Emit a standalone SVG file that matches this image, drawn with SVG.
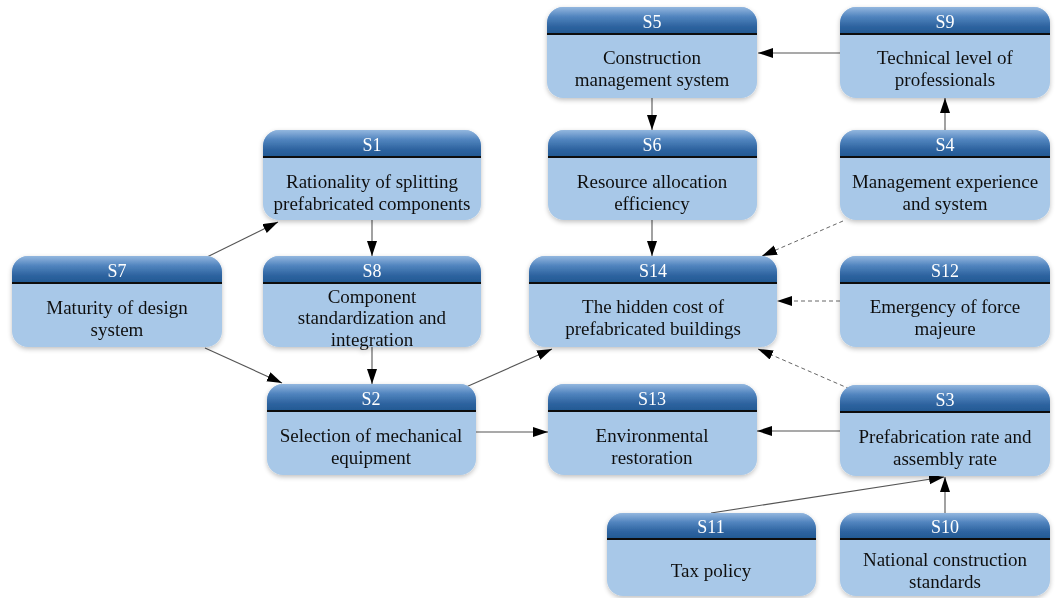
<svg xmlns="http://www.w3.org/2000/svg" width="1056" height="598" viewBox="0 0 1056 598">
  <defs>
    <linearGradient id="headGrad" x1="0" y1="0" x2="0" y2="1">
      <stop offset="0" stop-color="#93b7df"/>
      <stop offset="0.35" stop-color="#5285bf"/>
      <stop offset="0.7" stop-color="#2f65a1"/>
      <stop offset="1" stop-color="#215892"/>
    </linearGradient>
    <filter id="soft" x="-10%" y="-10%" width="120%" height="125%">
      <feGaussianBlur in="SourceAlpha" stdDeviation="2.5"/>
      <feOffset dx="0" dy="1.5" result="b"/>
      <feComponentTransfer><feFuncA type="linear" slope="0.25"/></feComponentTransfer>
      <feMerge><feMergeNode/><feMergeNode in="SourceGraphic"/></feMerge>
    </filter>
    <marker id="arr" markerUnits="userSpaceOnUse" markerWidth="16" markerHeight="11" refX="15" refY="5" orient="auto">
      <path d="M0,0 L15,5 L0,10 Z" fill="#000"/>
    </marker>
  </defs>
  <style>
    .body { fill: #a8c8e8; }
    .head { fill: url(#headGrad); }
    .sep { stroke: #111; stroke-width: 2; }
    .title { font-family: "Liberation Serif", "Times New Roman", serif; font-size: 18px; fill: #ffffff; text-anchor: middle; }
    .label { font-family: "Liberation Serif", "Times New Roman", serif; font-size: 19px; fill: #111111; text-anchor: middle; }
    .edge { stroke: #555; stroke-width: 1.1; fill: none; marker-end: url(#arr); }
    .dash { stroke-dasharray: 4 3; stroke-width: 0.9; }
  </style>

  <rect width="1056" height="598" fill="#ffffff"/>

  <!-- connectors -->
  <g id="connectors">
    <line class="edge" x1="840" y1="53" x2="758" y2="53"/>
    <line class="edge" x1="652" y1="98" x2="652" y2="130"/>
    <line class="edge" x1="945" y1="130" x2="945" y2="98"/>
    <line class="edge" x1="652" y1="220" x2="652" y2="256"/>
    <line class="edge dash" x1="843" y1="221" x2="762" y2="256"/>
    <line class="edge dash" x1="840" y1="301" x2="777" y2="301"/>
    <line class="edge dash" x1="850" y1="389" x2="758" y2="349"/>
    <line class="edge" x1="372" y1="220" x2="372" y2="256"/>
    <line class="edge" x1="207" y1="257" x2="278" y2="222"/>
    <line class="edge" x1="205" y1="348" x2="282" y2="383"/>
    <line class="edge" x1="372" y1="347" x2="372" y2="384"/>
    <line class="edge" x1="466" y1="387" x2="552" y2="349"/>
    <line class="edge" x1="476" y1="432" x2="548" y2="432"/>
    <line class="edge" x1="840" y1="431" x2="757" y2="431"/>
    <line class="edge" x1="711" y1="513" x2="944" y2="477"/>
    <line class="edge" x1="945" y1="513" x2="945" y2="477"/>
  </g>

  <!-- S5 -->
  <g id="S5" filter="url(#soft)">
    <rect class="body" x="547" y="7" width="210" height="91" rx="16"/>
    <path class="head" d="M547,34 V23 A16,16 0 0 1 563,7 H741 A16,16 0 0 1 757,23 V34 Z"/>
    <line class="sep" x1="547" y1="34" x2="757" y2="34"/>
    <text class="title" x="652" y="28">S5</text>
    <text class="label" x="652" y="64">Construction</text>
    <text class="label" x="652" y="86">management system</text>
  </g>

  <!-- S9 -->
  <g id="S9" filter="url(#soft)">
    <rect class="body" x="840" y="7" width="210" height="91" rx="16"/>
    <path class="head" d="M840,34 V23 A16,16 0 0 1 856,7 H1034 A16,16 0 0 1 1050,23 V34 Z"/>
    <line class="sep" x1="840" y1="34" x2="1050" y2="34"/>
    <text class="title" x="945" y="28">S9</text>
    <text class="label" x="945" y="64">Technical level of</text>
    <text class="label" x="945" y="86">professionals</text>
  </g>

  <!-- S1 -->
  <g id="S1" filter="url(#soft)">
    <rect class="body" x="263" y="130" width="218" height="90" rx="16"/>
    <path class="head" d="M263,157 V146 A16,16 0 0 1 279,130 H465 A16,16 0 0 1 481,146 V157 Z"/>
    <line class="sep" x1="263" y1="157" x2="481" y2="157"/>
    <text class="title" x="372" y="151">S1</text>
    <text class="label" x="372" y="188">Rationality of splitting</text>
    <text class="label" x="372" y="210">prefabricated components</text>
  </g>

  <!-- S6 -->
  <g id="S6" filter="url(#soft)">
    <rect class="body" x="548" y="130" width="209" height="90" rx="16"/>
    <path class="head" d="M548,157 V146 A16,16 0 0 1 564,130 H741 A16,16 0 0 1 757,146 V157 Z"/>
    <line class="sep" x1="548" y1="157" x2="757" y2="157"/>
    <text class="title" x="652" y="151">S6</text>
    <text class="label" x="652" y="188">Resource allocation</text>
    <text class="label" x="652" y="210">efficiency</text>
  </g>

  <!-- S4 -->
  <g id="S4" filter="url(#soft)">
    <rect class="body" x="840" y="130" width="210" height="90" rx="16"/>
    <path class="head" d="M840,157 V146 A16,16 0 0 1 856,130 H1034 A16,16 0 0 1 1050,146 V157 Z"/>
    <line class="sep" x1="840" y1="157" x2="1050" y2="157"/>
    <text class="title" x="945" y="151">S4</text>
    <text class="label" x="945" y="188">Management experience</text>
    <text class="label" x="945" y="210">and system</text>
  </g>

  <!-- S7 -->
  <g id="S7" filter="url(#soft)">
    <rect class="body" x="12" y="256" width="210" height="91" rx="16"/>
    <path class="head" d="M12,283 V272 A16,16 0 0 1 28,256 H206 A16,16 0 0 1 222,272 V283 Z"/>
    <line class="sep" x1="12" y1="283" x2="222" y2="283"/>
    <text class="title" x="117" y="277">S7</text>
    <text class="label" x="117" y="314">Maturity of design</text>
    <text class="label" x="117" y="336">system</text>
  </g>

  <!-- S8 -->
  <g id="S8" filter="url(#soft)">
    <rect class="body" x="263" y="256" width="218" height="91" rx="16"/>
    <path class="head" d="M263,283 V272 A16,16 0 0 1 279,256 H465 A16,16 0 0 1 481,272 V283 Z"/>
    <line class="sep" x1="263" y1="283" x2="481" y2="283"/>
    <text class="title" x="372" y="277">S8</text>
    <text class="label" x="372" y="303">Component</text>
    <text class="label" x="372" y="324">standardization and</text>
    <text class="label" x="372" y="346">integration</text>
  </g>

  <!-- S14 -->
  <g id="S14" filter="url(#soft)">
    <rect class="body" x="529" y="256" width="248" height="91" rx="16"/>
    <path class="head" d="M529,283 V272 A16,16 0 0 1 545,256 H761 A16,16 0 0 1 777,272 V283 Z"/>
    <line class="sep" x1="529" y1="283" x2="777" y2="283"/>
    <text class="title" x="653" y="277">S14</text>
    <text class="label" x="653" y="313">The hidden cost of</text>
    <text class="label" x="653" y="335">prefabricated buildings</text>
  </g>

  <!-- S12 -->
  <g id="S12" filter="url(#soft)">
    <rect class="body" x="840" y="256" width="210" height="91" rx="16"/>
    <path class="head" d="M840,283 V272 A16,16 0 0 1 856,256 H1034 A16,16 0 0 1 1050,272 V283 Z"/>
    <line class="sep" x1="840" y1="283" x2="1050" y2="283"/>
    <text class="title" x="945" y="277">S12</text>
    <text class="label" x="945" y="313">Emergency of force</text>
    <text class="label" x="945" y="335">majeure</text>
  </g>

  <!-- S2 -->
  <g id="S2" filter="url(#soft)">
    <rect class="body" x="267" y="384" width="209" height="91" rx="16"/>
    <path class="head" d="M267,411 V400 A16,16 0 0 1 283,384 H460 A16,16 0 0 1 476,400 V411 Z"/>
    <line class="sep" x1="267" y1="411" x2="476" y2="411"/>
    <text class="title" x="371" y="405">S2</text>
    <text class="label" x="371" y="442">Selection of mechanical</text>
    <text class="label" x="371" y="464">equipment</text>
  </g>

  <!-- S13 -->
  <g id="S13" filter="url(#soft)">
    <rect class="body" x="548" y="384" width="209" height="91" rx="16"/>
    <path class="head" d="M548,411 V400 A16,16 0 0 1 564,384 H741 A16,16 0 0 1 757,400 V411 Z"/>
    <line class="sep" x1="548" y1="411" x2="757" y2="411"/>
    <text class="title" x="652" y="405">S13</text>
    <text class="label" x="652" y="442">Environmental</text>
    <text class="label" x="652" y="464">restoration</text>
  </g>

  <!-- S3 -->
  <g id="S3" filter="url(#soft)">
    <rect class="body" x="840" y="385" width="210" height="91" rx="16"/>
    <path class="head" d="M840,412 V401 A16,16 0 0 1 856,385 H1034 A16,16 0 0 1 1050,401 V412 Z"/>
    <line class="sep" x1="840" y1="412" x2="1050" y2="412"/>
    <text class="title" x="945" y="406">S3</text>
    <text class="label" x="945" y="443">Prefabrication rate and</text>
    <text class="label" x="945" y="465">assembly rate</text>
  </g>

  <!-- S11 -->
  <g id="S11" filter="url(#soft)">
    <rect class="body" x="607" y="513" width="209" height="83" rx="16"/>
    <path class="head" d="M607,539 V529 A16,16 0 0 1 623,513 H800 A16,16 0 0 1 816,529 V539 Z"/>
    <line class="sep" x1="607" y1="539" x2="816" y2="539"/>
    <text class="title" x="711" y="533">S11</text>
    <text class="label" x="711" y="577">Tax policy</text>
  </g>

  <!-- S10 -->
  <g id="S10" filter="url(#soft)">
    <rect class="body" x="840" y="513" width="210" height="83" rx="16"/>
    <path class="head" d="M840,539 V529 A16,16 0 0 1 856,513 H1034 A16,16 0 0 1 1050,529 V539 Z"/>
    <line class="sep" x1="840" y1="539" x2="1050" y2="539"/>
    <text class="title" x="945" y="533">S10</text>
    <text class="label" x="945" y="566">National construction</text>
    <text class="label" x="945" y="588">standards</text>
  </g>
</svg>
